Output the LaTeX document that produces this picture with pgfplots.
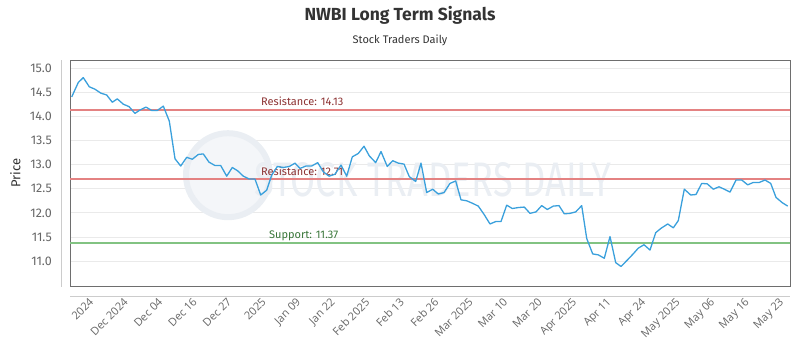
\documentclass[border=0pt]{standalone}
\usepackage{pgfplots}
\pgfplotsset{compat=1.18}
\usepackage{fontspec}
\setmainfont{Fira Sans}
\newfontfamily\xfont{Open Sans}
\definecolor{linec}{RGB}{58,160,220}
\definecolor{titc}{RGB}{51,51,51}
\definecolor{tickc}{RGB}{102,102,102}
\definecolor{axc}{RGB}{204,204,204}
\definecolor{framec}{RGB}{110,110,110}
\definecolor{gridc}{RGB}{234,234,234}
\definecolor{resc}{RGB}{228,130,130}
\definecolor{restc}{RGB}{140,50,50}
\definecolor{supc}{RGB}{130,195,130}
\definecolor{suptc}{RGB}{56,118,56}
\definecolor{wmc}{RGB}{234,238,243}
\definecolor{wmfill}{RGB}{244,246,249}
\begin{document}
\begin{tikzpicture}
\useasboundingbox (0pt,0pt) rectangle (800pt,350pt);
\node[font=\bfseries\fontsize{17.5}{19}\selectfont, text=titc] at (400pt,335pt) {NWBI Long Term Signals};
\node[font=\fontsize{11}{13}\selectfont, text=titc] at (400pt,310pt) {Stock Traders Daily};
\draw[axc, line width=0.8pt] (61pt,63pt) -- (61pt,290pt);
\draw[axc, line width=0.8pt] (70pt,54pt) -- (790pt,54pt);
\begin{axis}[
  at={(70pt,64pt)}, anchor=south west,
  scale only axis, width=720pt, height=226pt,
  xmin=70, xmax=790, ymin=10.486, ymax=15.165,
  axis line style={draw=framec, line width=0.8pt},
  major tick length=0pt,
  ytick={11,11.5,...,15},
  ymajorgrids, grid style={draw=gridc, line width=0.8pt},
  /pgf/number format/assume math mode=true,
  yticklabel style={/pgf/number format/.cd, fixed, fixed zerofill, precision=1, /tikz/.cd,
    font=\fontsize{12.5}{14}\selectfont, text=tickc, inner sep=0pt, anchor=east, xshift=-18pt},
  xtick={90,124.5,159,193.5,228,262.5,297,331.5,366,400.5,435,469.5,504,538.5,573,607.5,642,676.5,711,745.5,780},
  xticklabels={2024,Dec 2024,Dec 04,Dec 16,Dec 27,2025,Jan 09,Jan 22,Feb 2025,Feb 13,Feb 26,Mar 2025,Mar 10,Mar 20,Apr 2025,Apr 11,Apr 24,May 2025,May 06,May 16,May 23},
  xticklabel style={font=\xfont\fontsize{11}{13}\selectfont, text=tickc, rotate=45, anchor=north east, inner sep=0pt, xshift=-8.9pt, yshift=-6.8pt},
  ylabel={Price},
  ylabel style={font=\fontsize{13}{15}\selectfont, text=titc, at={(axis description cs:-0.076,0.5)}, anchor=center},
  clip=true,
]
% watermark
\draw[wmc, fill=wmfill, line width=6pt] (axis cs:228,12.78) circle[radius=42pt];
\node[text=wmc] at (axis cs:433,12.68) {\resizebox{357pt}{34pt}{STOCK TRADERS DAILY}};
% levels
\addplot[resc, line width=2pt] coordinates {(70,14.13) (790,14.13)};
\addplot[resc, line width=2pt] coordinates {(70,12.71) (790,12.71)};
\addplot[supc, line width=2pt] coordinates {(70,11.37) (790,11.37)};
\node[text=restc, anchor=west, font=\fontsize{11}{13}\selectfont, inner sep=0pt] at (axis cs:261,14.30) {Resistance: 14.13};
\node[text=restc, anchor=west, font=\fontsize{11}{13}\selectfont, inner sep=0pt] at (axis cs:261,12.86) {Resistance: 12.71};
\node[text=suptc, anchor=west, font=\fontsize{11}{13}\selectfont, inner sep=0pt] at (axis cs:269,11.52) {Support: 11.37};
% price
\addplot[linec, line width=1.3pt, line join=round] table {
71.7 14.40
78.3 14.70
83.3 14.80
89.3 14.61
95 14.56
100.7 14.48
106.7 14.44
112.3 14.29
117.3 14.36
123.3 14.25
129 14.20
135 14.06
140 14.13
146 14.19
151.7 14.12
157.3 14.12
163.3 14.21
169.3 13.90
175 13.12
180.7 12.97
186.7 13.15
192.3 13.11
198.3 13.21
203.3 13.22
209 13.05
215 12.98
220.7 12.98
226.7 12.76
232.3 12.94
237.7 12.87
243.3 12.76
249.3 12.70
255 12.70
260.7 12.37
266.7 12.47
271.7 12.78
277.3 12.96
283.3 12.94
289.3 12.96
295 13.03
300 12.92
306 12.97
311.7 12.97
317.7 13.04
323.3 12.85
329 12.76
335 12.80
341 12.99
346.7 12.76
352.3 13.16
358.3 13.23
364 13.38
369.3 13.18
375.7 13.04
381 13.27
387.3 12.96
392.7 13.08
398.3 13.03
404 13.01
409.3 12.75
415.7 12.65
421 13.03
426.7 12.42
432.7 12.49
438.3 12.39
444 12.42
450 12.61
455.7 12.66
461 12.27
466.7 12.25
472.3 12.20
478.3 12.14
484 11.97
490 11.77
495.7 11.82
501 11.82
506.7 12.16
512.3 12.09
518.3 12.11
524.3 12.12
530 11.99
536 12.02
541.7 12.15
547.3 12.07
553.3 12.14
559 12.15
564.3 11.98
570 11.99
575.7 12.02
581.7 12.15
586.7 11.47
592.7 11.15
598.3 11.13
604.3 11.06
610 11.51
615.7 10.97
621 10.89
626.7 11.01
632.7 11.14
638.3 11.27
644 11.34
650 11.23
655.7 11.59
661 11.68
667.7 11.77
673.3 11.69
678.3 11.84
684.3 12.49
690.7 12.37
696 12.38
701.7 12.61
707.3 12.60
713.3 12.49
719 12.54
724.3 12.49
730 12.43
736 12.68
741.7 12.68
747.7 12.58
753.3 12.63
759.3 12.63
765 12.68
770.7 12.61
776 12.32
782.3 12.21
787.7 12.14
};
\end{axis}
\end{tikzpicture}
\end{document}
